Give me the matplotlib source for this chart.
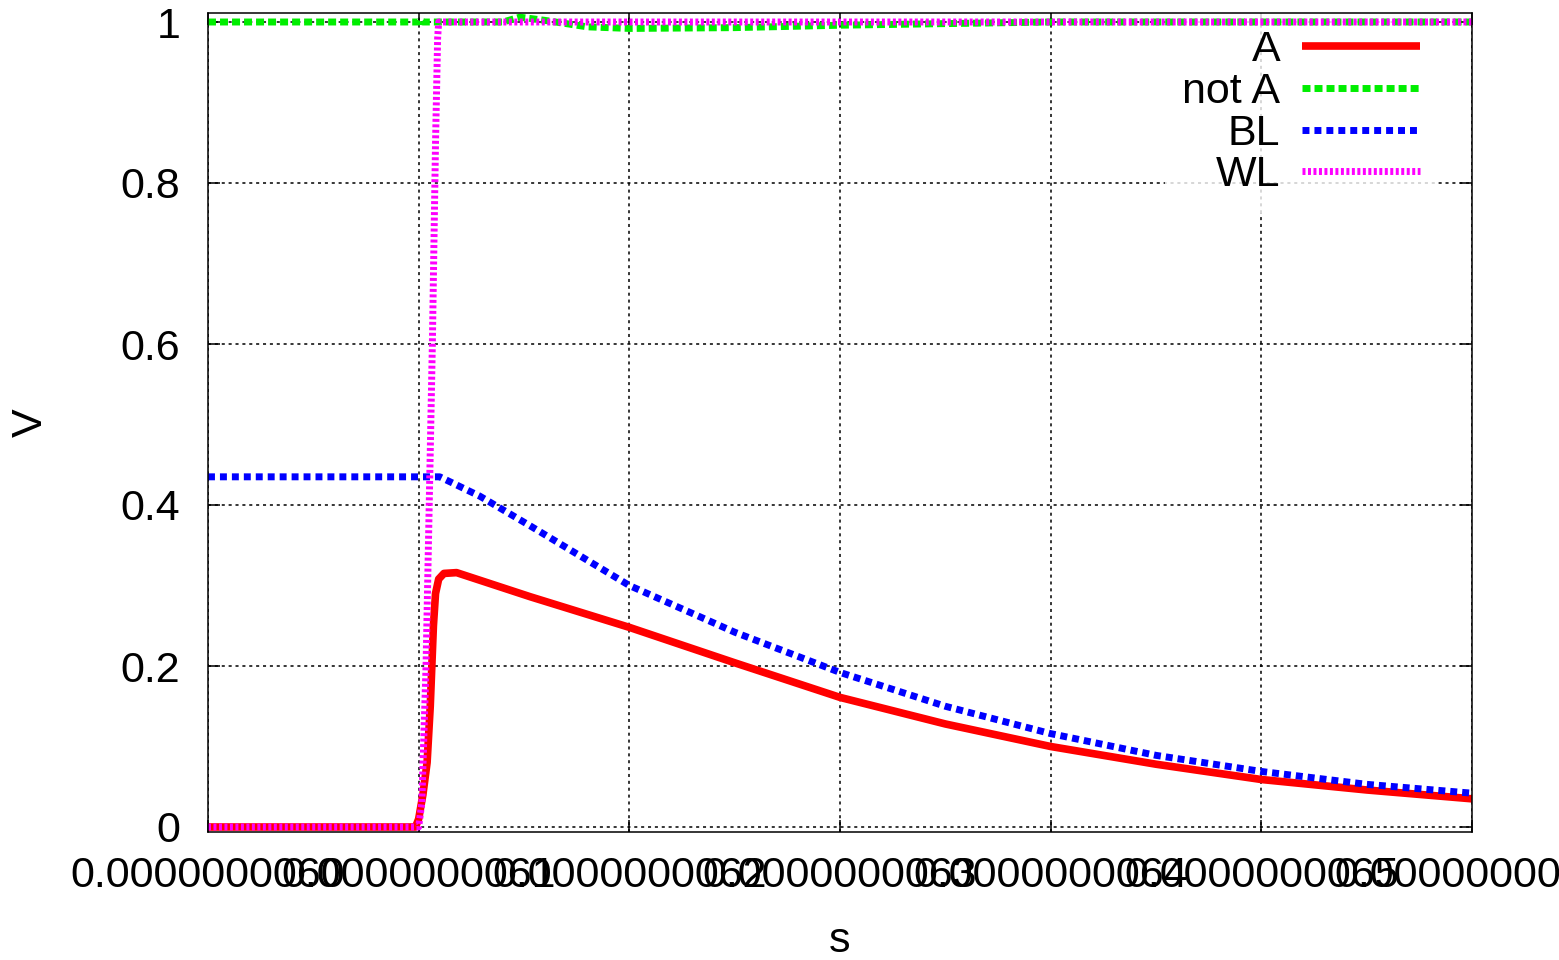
import numpy as np
import matplotlib
matplotlib.use("Agg")
from matplotlib import pyplot as plt

plt.rcParams['font.family'] = ['Liberation Sans', 'DejaVu Sans']

# time in ns, voltages in V
t_A = [6.0, 6.0985, 6.1, 6.102, 6.104, 6.1055, 6.107, 6.108, 6.1095, 6.112, 6.118,
       6.153, 6.2, 6.25, 6.3, 6.35, 6.4, 6.45, 6.5, 6.55, 6.6]
v_A = [0.0, 0.0, 0.01, 0.04, 0.08, 0.15, 0.25, 0.29, 0.308, 0.315, 0.316,
       0.286, 0.248, 0.204, 0.161, 0.128, 0.10, 0.078, 0.059, 0.046, 0.035]

t_notA = [6.0, 6.1, 6.1005, 6.102, 6.14, 6.148, 6.16, 6.18, 6.2, 6.25, 6.3, 6.35, 6.4, 6.6]
v_notA = [1.0, 1.0, 1.003, 1.0, 1.0, 1.006, 1.002, 0.994, 0.992, 0.993, 0.996, 0.998, 1.0, 1.0]

t_BL = [6.0, 6.1, 6.11, 6.129, 6.153, 6.2, 6.25, 6.3, 6.35, 6.4, 6.45, 6.5, 6.55, 6.6]
v_BL = [0.435, 0.435, 0.435, 0.411, 0.374, 0.30, 0.242, 0.192, 0.15, 0.116, 0.089, 0.069, 0.053, 0.042]

t_WL = [6.0, 6.1, 6.1015, 6.1035, 6.105, 6.1065, 6.108, 6.109, 6.1095, 6.6]
v_WL = [0.0, 0.0, 0.03, 0.2, 0.4, 0.6, 0.85, 0.98, 1.0, 1.0]

x_ticks_ns = [6.0, 6.1, 6.2, 6.3, 6.4, 6.5, 6.6]
x_tick_labels = ["0.0000000060", "0.0000000061", "0.0000000062", "0.0000000063",
                 "0.0000000064", "0.0000000065", "0.0000000066"]
y_ticks = [0, 0.2, 0.4, 0.6, 0.8, 1]
y_tick_labels = ["0", "0.2", "0.4", "0.6", "0.8", "1"]

fs = 31

fig = plt.figure(figsize=(15.59, 9.6), dpi=100)
ax = fig.add_axes([208 / 1559, 1 - 832 / 960, (1472 - 208) / 1559, (832 - 13) / 960])

ns = 1e-9
ax.plot(np.array(t_A) * ns, v_A, color="#ff0000", lw=5.5, label="A", solid_capstyle="butt")
ax.plot(np.array(t_notA) * ns, v_notA, color="#00ee00", lw=5, ls=(0, (1.15, 0.58)), label="not A")
ax.plot(np.array(t_BL) * ns, v_BL, color="#0000ff", lw=5, ls=(0, (1.0, 0.72)), label="BL")
ax.plot(np.array(t_WL) * ns, v_WL, color="#ff00ff", lw=5, ls=(0, (0.43, 0.36)), label="WL")

ax.set_xlim(6.0 * ns, 6.6 * ns)
ax.set_ylim(-5 / 805, 1 + 9 / 805)
ax.set_xticks(np.array(x_ticks_ns) * ns)
ax.set_xticklabels(x_tick_labels)
ax.set_yticks(y_ticks)
ax.set_yticklabels(y_tick_labels)
ax.tick_params(direction="in", length=8.5, width=1.1, top=True, right=True, labelsize=fs)
ax.tick_params(axis="x", pad=17)
ax.tick_params(axis="y", pad=20)
for sp in ax.spines.values():
    sp.set_linewidth(1.1)

ax.grid(True, color="black", lw=1.1, ls=(0, (2, 2.5)))
ax.set_axisbelow(True)

ax.set_xlabel("s", fontsize=fs, labelpad=18)
ax.set_ylabel("V", fontsize=fs, labelpad=50)

leg = ax.legend(loc="upper right", bbox_to_anchor=((1437 - 208) / 1264, 1.0), borderaxespad=0,
                markerfirst=False, fontsize=fs, handlelength=2.74, handletextpad=0.5,
                labelspacing=0.04, borderpad=0.4, frameon=True, fancybox=False)
leg.get_frame().set_facecolor("white")
leg.get_frame().set_edgecolor("none")
leg.set_zorder(1.5)
for t in leg.get_texts():
    t.set_ha("right")

fig.savefig("out.png", dpi=100)
